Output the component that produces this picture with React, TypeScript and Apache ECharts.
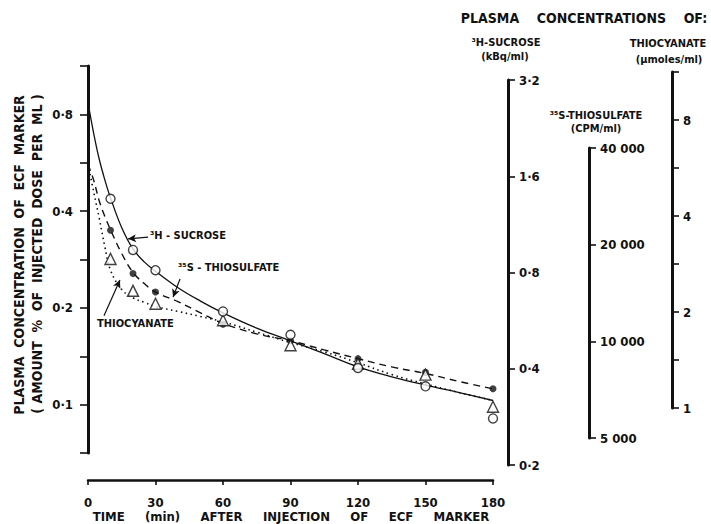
import React, { useEffect, useRef } from 'react';
import * as echarts from 'echarts';

// Measured points (time in min, plasma concentration)
const times = [10, 20, 30, 60, 90, 120, 150, 180];
const sucrosePts = [0.437, 0.303, 0.262, 0.195, 0.165, 0.130, 0.114, 0.0906];
const thiosulfatePts = [0.349, 0.256, 0.224, 0.178, 0.158, 0.139, 0.126, 0.112];
const thiocyanatePts = [0.284, 0.226, 0.206, 0.183, 0.153, 0.134, 0.124, 0.0985];

// Fitted curves
const curveTimes = [0, 2.5, 5, 7.5, 10, 15, 20, 25, 30, 40, 50, 60, 75, 90, 105, 120, 135, 150, 165, 180];
const sucroseCurve = [0.87, 0.70, 0.58, 0.50, 0.44, 0.355, 0.305, 0.278, 0.26, 0.231, 0.21, 0.193, 0.173, 0.158, 0.144, 0.131, 0.122, 0.115, 0.109, 0.103];
const thiosulfateCurve = [0.56, 0.50, 0.43, 0.385, 0.35, 0.295, 0.258, 0.238, 0.224, 0.209, 0.193, 0.179, 0.166, 0.158, 0.148, 0.139, 0.131, 0.125, 0.118, 0.112];
const thiocyanateCurve = [0.56, 0.46, 0.38, 0.31, 0.262, 0.228, 0.215, 0.208, 0.202, 0.195, 0.188, 0.181, 0.168, 0.156, 0.146, 0.135, 0.124, 0.116, 0.109, 0.103];

// Tick values
const xTicks = [0, 30, 60, 90, 120, 150, 180];
const leftTicks = [0.1, 0.2, 0.4, 0.8];
const sucroseTicks = [0.2, 0.4, 0.8, 1.6, 3.2];
const thiosulfateTicks = [5000, 10000, 20000, 40000];
const thiocyanateTicks = [1, 2, 4, 8];

// Annotation arrows [fromTime, fromValue, toTime, toValue]
const sucroseArrow = [26.7, 0.332, 17.8, 0.328];
const thiosulfateArrow = [40.9, 0.246, 37.8, 0.216];
const thiocyanateArrow = [7.1, 0.189, 14.2, 0.244];

const FONT = "'DejaVu Sans Condensed', 'DejaVu Sans', sans-serif";
const INK = '#111';
const NB = '\u00A0';

const L = (v: number) => Math.log2(v / leftTicks[0]);

function fmtDecimal(v: number) {
  return String(Math.round(v * 10) / 10).replace('.', '\u00B7');
}
function fmtThousands(v: number) {
  const s = String(Math.round(v));
  return s.replace(/\B(?=(\d{3})+(?!\d))/g, ' ');
}
function makeFormatter(ticks: number[], fmt: (v: number) => string) {
  return (u: number) => {
    const r = Math.round(u);
    if (Math.abs(u - r) > 1e-6) return '';
    const t = ticks[r];
    return t === undefined ? '' : fmt(t);
  };
}

export default function App() {
  const ref = useRef<HTMLDivElement>(null);
  useEffect(() => {
    if (!ref.current) return;
    const chart = echarts.init(ref.current, undefined, { renderer: 'svg' });

    const labelStyle = { color: INK, fontFamily: FONT, fontWeight: 'bold' as const, fontSize: 13 };
    const hiddenX = (gridIndex: number) => ({
      type: 'value', gridIndex, min: 0, max: 1, show: false,
    });
    const rightY = (gridIndex: number, max: number, interval: number, ticks: number[], fmt: (v: number) => string) => ({
      type: 'value', gridIndex, position: 'right', min: 0, max, interval,
      axisLine: { show: true, onZero: false, lineStyle: { color: INK, width: 3 } },
      axisTick: { show: true, length: 7, lineStyle: { color: INK, width: 1.6 } },
      axisLabel: { ...labelStyle, margin: 11, formatter: makeFormatter(ticks, fmt) },
      splitLine: { show: false },
    });

    const arrowLine = (a: number[]) => [
      { coord: [a[0], L(a[1])], symbol: 'none' },
      { coord: [a[2], L(a[3])], symbol: 'arrow' },
    ];

    const option: any = {
      animation: false,
      backgroundColor: '#fff',
      grid: [
        { left: 88, top: 66, width: 405, height: 387 },
        { left: 400, top: 80, width: 108, height: 385 },
        { left: 480, top: 148, width: 109, height: 290 },
        { left: 560, top: 72, width: 112, height: 336 },
      ],
      xAxis: [
        {
          type: 'value', gridIndex: 0, min: xTicks[0], max: xTicks[xTicks.length - 1], interval: 30,
          offset: 27,
          axisLine: { show: true, onZero: false, lineStyle: { color: INK, width: 2.5 } },
          axisTick: { show: true, length: 5, lineStyle: { color: INK, width: 1.6 } },
          axisLabel: { ...labelStyle, margin: 16 },
          splitLine: { show: false },
        },
        hiddenX(1), hiddenX(2), hiddenX(3),
      ],
      yAxis: [
        {
          type: 'value', gridIndex: 0, position: 'left', min: -0.5, max: 3.5, interval: 0.5,
          axisLine: { show: true, onZero: false, lineStyle: { color: INK, width: 3 } },
          axisTick: { show: true, length: 8, lineStyle: { color: INK, width: 1.6 } },
          axisLabel: { ...labelStyle, margin: 15, formatter: makeFormatter(leftTicks, fmtDecimal) },
          splitLine: { show: false },
        },
        rightY(1, 4, 1, sucroseTicks, fmtDecimal),
        rightY(2, 3, 1, thiosulfateTicks, fmtThousands),
        rightY(3, 3.5, 0.5, thiocyanateTicks, (v) => String(v)),
      ],
      series: [
        {
          name: 'sucrose curve', type: 'line', smooth: 0.4, showSymbol: false, z: 2,
          data: curveTimes.map((t, i) => [t, L(sucroseCurve[i])]),
          lineStyle: { color: INK, width: 1.3, type: 'solid' },
        },
        {
          name: 'thiosulfate curve', type: 'line', smooth: 0.4, showSymbol: false, z: 2,
          data: curveTimes.map((t, i) => [t, L(thiosulfateCurve[i])]),
          lineStyle: { color: INK, width: 1.4, type: [7, 5] },
        },
        {
          name: 'thiocyanate curve', type: 'line', smooth: 0.4, showSymbol: false, z: 2,
          data: curveTimes.map((t, i) => [t, L(thiocyanateCurve[i])]),
          lineStyle: { color: INK, width: 1.6, type: [1.5, 3.5] },
        },
        {
          name: 'thiosulfate', type: 'scatter', symbol: 'circle', symbolSize: 7, z: 4,
          data: times.map((t, i) => [t, L(thiosulfatePts[i])]),
          itemStyle: { color: INK },
        },
        {
          name: 'thiocyanate', type: 'scatter', symbol: 'triangle', symbolSize: 11, z: 5,
          data: times.map((t, i) => [t, L(thiocyanatePts[i])]),
          itemStyle: { color: '#fff', borderColor: INK, borderWidth: 1.4 },
        },
        {
          name: 'sucrose', type: 'scatter', symbol: 'circle', symbolSize: 9, z: 6,
          data: times.map((t, i) => [t, L(sucrosePts[i])]),
          itemStyle: { color: '#fff', borderColor: INK, borderWidth: 1.4 },
          markLine: {
            silent: true, symbolSize: [6, 8], label: { show: false },
            lineStyle: { color: INK, width: 1.2, type: 'solid' },
            data: [arrowLine(sucroseArrow), arrowLine(thiosulfateArrow), arrowLine(thiocyanateArrow)],
          },
        },
      ],
      graphic: [
        {
          type: 'text', x: 19, y: 255, rotation: Math.PI / 2,
          style: {
            text: ['PLASMA', 'CONCENTRATION', 'OF', 'ECF', 'MARKER'].join(NB + NB),
            fill: INK, font: `bold 14px ${FONT}`, align: 'center', verticalAlign: 'middle',
          },
        },
        {
          type: 'text', x: 37, y: 254, rotation: Math.PI / 2,
          style: {
            text: ['(' + NB + 'AMOUNT', '%', 'OF', 'INJECTED', 'DOSE', 'PER', 'ML' + NB + ')'].join(NB + NB),
            fill: INK, font: `bold 14px ${FONT}`, align: 'center', verticalAlign: 'middle',
          },
        },
        {
          type: 'text', x: 291, y: 516,
          style: {
            text: ['TIME', '(min)', 'AFTER', 'INJECTION', 'OF', 'ECF', 'MARKER'].join(NB + NB + NB + NB + NB),
            fill: INK, font: `bold 13px ${FONT}`, align: 'center', verticalAlign: 'middle',
          },
        },
        {
          type: 'text', x: 584, y: 18,
          style: {
            text: ['PLASMA', 'CONCENTRATIONS', 'OF:'].join(NB + NB + NB + NB),
            fill: INK, font: `bold 14px ${FONT}`, align: 'center', verticalAlign: 'middle',
          },
        },
        {
          type: 'text', x: 506, y: 42,
          style: { text: '\u00B3H-SUCROSE', fill: INK, font: `bold 11px ${FONT}`, align: 'center', verticalAlign: 'middle' },
        },
        {
          type: 'text', x: 505, y: 56,
          style: { text: '(kBq/ml)', fill: INK, font: `bold 11px ${FONT}`, align: 'center', verticalAlign: 'middle' },
        },
        {
          type: 'text', x: 668, y: 43,
          style: { text: 'THIOCYANATE', fill: INK, font: `bold 11px ${FONT}`, align: 'center', verticalAlign: 'middle' },
        },
        {
          type: 'text', x: 669, y: 59,
          style: { text: '(\u00B5moles/ml)', fill: INK, font: `bold 11px ${FONT}`, align: 'center', verticalAlign: 'middle' },
        },
        {
          type: 'text', x: 596, y: 115,
          style: { text: '\u00B3\u2075S-THIOSULFATE', fill: INK, font: `bold 11px ${FONT}`, align: 'center', verticalAlign: 'middle' },
        },
        {
          type: 'text', x: 596, y: 128,
          style: { text: '(CPM/ml)', fill: INK, font: `bold 11px ${FONT}`, align: 'center', verticalAlign: 'middle' },
        },
        {
          type: 'text', x: 150, y: 235,
          style: { text: '\u00B3H' + NB + '-' + NB + 'SUCROSE', fill: INK, font: `bold 11px ${FONT}`, align: 'left', verticalAlign: 'middle' },
        },
        {
          type: 'text', x: 178, y: 267,
          style: { text: '\u00B3\u2075S' + NB + '-' + NB + 'THIOSULFATE', fill: INK, font: `bold 11px ${FONT}`, align: 'left', verticalAlign: 'middle' },
        },
        {
          type: 'text', x: 97, y: 323,
          style: { text: 'THIOCYANATE', fill: INK, font: `bold 11px ${FONT}`, align: 'left', verticalAlign: 'middle' },
        },
      ],
    };
    chart.setOption(option);
    return () => chart.dispose();
  }, []);
  return (
    <div
      ref={ref}
      style={{ position: 'fixed', left: 0, top: 0, width: 711, height: 524, background: '#fff' }}
    />
  );
}
